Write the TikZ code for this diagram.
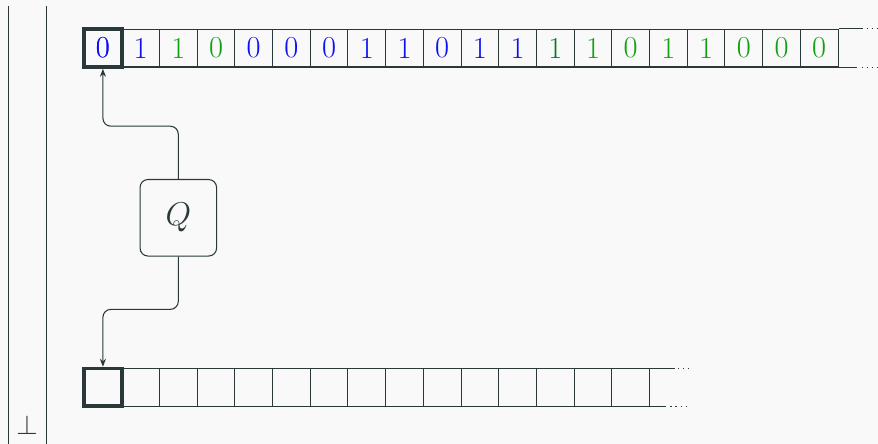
\documentclass[tikz,border=0pt]{standalone}
\usepackage{amsmath, amssymb}
\usepackage{tikz}
\usetikzlibrary{arrows.meta, positioning, calc}

\definecolor{tapeline}{RGB}{42,56,58}
\definecolor{tapeblue}{RGB}{15,15,245}
\definecolor{tapegreen}{RGB}{20,160,20}
\definecolor{tapedkgreen}{RGB}{10,120,40}
\definecolor{pagebg}{RGB}{249,249,249}

\tikzset{
  cell/.style={draw=tapeline, line width=0.8pt, minimum size=1cm, inner sep=0pt,
    font=\fontsize{23}{26}\selectfont},
  head/.style={cell, line width=2.8pt},
  dots/.style={tapeline, line width=0.8pt, dash pattern=on 0.8pt off 3pt},
  link/.style={draw=tapeline, line width=0.8pt, rounded corners=6pt},
}

\begin{document}
\begin{tikzpicture}[>={Stealth[length=6pt,width=4.6pt]}]
  % fond
  \fill[pagebg] (0,0) rectangle (23.29,11.777);
  \useasboundingbox (0,0) rectangle (23.29,11.777);
  % barres a gauche
  \draw[tapeline, line width=0.8pt] (0.23,0) -- (0.23,11.62);
  \draw[tapeline, line width=0.8pt] (1.23,0) -- (1.23,11.62);
  \node[anchor=base, inner sep=0pt, tapeline, font=\fontsize{21}{24}\selectfont] (bot) at (0.72,0.24) {$\bot$};
  % ruban du haut
  \foreach \d/\c [count=\i] in {0/tapeblue, 1/tapeblue, 1/tapegreen, 0/tapegreen,
      0/tapeblue, 0/tapeblue, 0/tapeblue, 1/tapeblue, 1/tapeblue, 0/tapeblue,
      1/tapeblue, 1/tapeblue, 1/tapedkgreen, 1/tapegreen, 0/tapegreen,
      1/tapegreen, 1/tapegreen, 0/tapegreen, 0/tapegreen, 0/tapegreen}
    \node[cell, text=\c] (t\i) at (1.73+\i,10.5) {\d};
  \node[head, text=tapeblue] (t1) at (2.73,10.5) {0};
  \draw[tapeline, line width=0.8pt] (t20.north east) -- ++(0.65,0) coordinate (tn);
  \draw[dots] (tn) ++(0.1,0) -- ++(0.3,0);
  \draw[tapeline, line width=0.8pt] (t20.south east) -- ++(0.5,0) coordinate (ts);
  \draw[dots] (ts) ++(0.12,0) -- ++(0.42,0);
  % ruban du bas
  \foreach \i in {1,...,15}
    \node[cell] (b\i) at (1.73+\i,1.5) {};
  \node[head] (b1) at (2.73,1.5) {};
  \draw[tapeline, line width=0.8pt] (b15.north east) -- ++(0.65,0) coordinate (bn);
  \draw[dots] (bn) ++(0.1,0) -- ++(0.3,0);
  \draw[tapeline, line width=0.8pt] (b15.south east) -- ++(0.42,0) coordinate (bs);
  \draw[dots] (bs) ++(0.12,0) -- ++(0.42,0);
  % machine
  \node[draw=tapeline, line width=0.8pt, rounded corners=6pt, minimum size=2.03cm,
    text=tapeline, font=\fontsize{24}{28}\selectfont] (Q) at (4.73,6) {$Q$};
  \draw[link, ->] (Q.north) -- ++(0,1.4) -| (t1.south);
  \draw[link, ->] (Q.south) -- ++(0,-1.4) -| (b1.north);
\end{tikzpicture}
\end{document}
